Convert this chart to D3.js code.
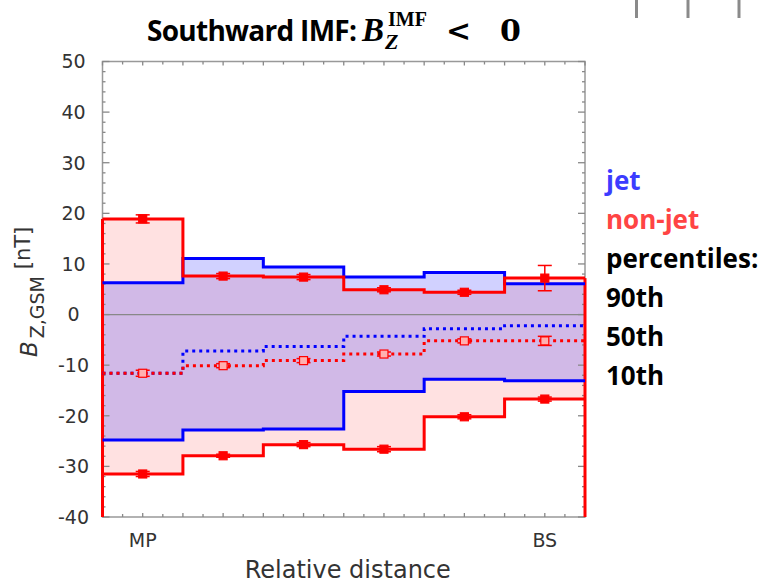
<!DOCTYPE html>
<meta charset="utf-8">
<style>
body { margin: 0; background: #fff; font-family: "DejaVu Sans", sans-serif; }
.axis-label { fill: #333; font-size: 19px; }
.legend { font-family: "Open Sans", Lato, sans-serif; font-weight: bold; font-size: 26px; }
</style>
<body>
<script src="https://d3js.org/d3.v7.min.js"></script>
<script>

// bins between magnetopause (MP) and bow shock (BS)
var bins = [0, 1, 2, 3, 4, 5];
var xTickPos = [0.5, 5.5];
var xTickText = ["MP", "BS"];
var yTicks = [50, 40, 30, 20, 10, 0, -10, -20, -30, -40];

// jet percentiles (blue)
var jet90 = [6.3, 11.1, 9.4, 7.4, 8.3, 6.1];
var jet50 = [-11.6, -7.2, -6.3, -4.3, -2.8, -2.2];
var jet10 = [-24.8, -22.8, -22.6, -15.2, -12.8, -13.1];

// non-jet percentiles (red) with error bars
var non90 = [18.9, 7.6, 7.4, 4.9, 4.4, 7.2];
var non50 = [-11.6, -10.1, -9.1, -7.8, -5.2, -5.2];
var non10 = [-31.5, -27.9, -25.7, -26.6, -20.2, -16.7];
var err90 = [0.8, 0.5, 0.5, 0.4, 0.4, 2.5];
var err50 = [0.6, 0.4, 0.4, 0.4, 0.4, 0.9];
var err10 = [0.5, 0.3, 0.4, 0.5, 0.4, 0.4];

var margin = {top: 61.5, left: 102.5},
    width = 482.5,
    height = 455.5;

var x = d3.scaleLinear().domain([0, 6]).range([0, width]);
var y = d3.scaleLinear().domain([-40, 50]).range([height, 0]);

var svg = d3.select("body").append("svg")
    .attr("width", 767)
    .attr("height", 584);

// slide leftovers top right
[636.5, 688, 739].forEach(function(px) {
    svg.append("line")
        .attr("x1", px).attr("x2", px)
        .attr("y1", 0).attr("y2", 18)
        .style("stroke", "#8a8a8a").style("stroke-width", 3);
});

var g = svg.append("g")
    .attr("transform", "translate(" + margin.left + "," + margin.top + ")");

// turn a per-bin array into step points
function steps(vals) {
    var pts = bins.map(function(b, i) { return {x: b, v: vals[i]}; });
    pts.push({x: 6, v: vals[vals.length - 1]});
    return pts;
}
function bandSteps(lo, hi) {
    var pts = bins.map(function(b, i) { return {x: b, lo: lo[i], hi: hi[i]}; });
    pts.push({x: 6, lo: lo[lo.length - 1], hi: hi[hi.length - 1]});
    return pts;
}

var line = d3.line()
    .x(function(d) { return x(d.x); })
    .y(function(d) { return y(d.v); })
    .curve(d3.curveStepAfter);

var area = d3.area()
    .x(function(d) { return x(d.x); })
    .y0(function(d) { return y(d.lo); })
    .y1(function(d) { return y(d.hi); })
    .curve(d3.curveStepAfter);

// shaded bands
g.append("path")
    .attr("d", area(bandSteps(non10, non90)))
    .style("fill", "#ffe1e1");
g.append("path")
    .attr("d", area(bandSteps(jet10, jet90)))
    .style("fill", "rgba(40,40,255,0.21)");

// zero line
g.append("line")
    .attr("x1", 0).attr("x2", width)
    .attr("y1", y(0)).attr("y2", y(0))
    .style("stroke", "#888").style("stroke-width", 1.2);

// frame
g.append("rect")
    .attr("width", width).attr("height", height)
    .style("fill", "none").style("stroke", "#999").style("stroke-width", 1.5);

// y ticks left and right
d3.range(-40, 51, 2).forEach(function(v) {
    var len = v % 10 === 0 ? 7 : 3;
    g.append("line").attr("x1", 0).attr("x2", len).attr("y1", y(v)).attr("y2", y(v))
        .style("stroke", "#888").style("stroke-width", 1.3);
    g.append("line").attr("x1", width).attr("x2", width - len).attr("y1", y(v)).attr("y2", y(v))
        .style("stroke", "#888").style("stroke-width", 1.3);
});
// x ticks bottom and top
d3.range(0, 6.01, 0.25).forEach(function(v) {
    var len = (v * 2) % 1 === 0 ? 4 : 3;
    g.append("line").attr("x1", x(v)).attr("x2", x(v)).attr("y1", height).attr("y2", height - len)
        .style("stroke", "#888").style("stroke-width", 1.3);
    g.append("line").attr("x1", x(v)).attr("x2", x(v)).attr("y1", 0).attr("y2", len)
        .style("stroke", "#888").style("stroke-width", 1.3);
});

// tick labels
g.selectAll(".ylab").data(yTicks).enter().append("text")
    .attr("class", "axis-label")
    .attr("x", -29)
    .attr("y", function(d) { return y(d); })
    .attr("dy", "0.36em")
    .attr("text-anchor", "middle")
    .text(function(d) { return d; });

g.selectAll(".xlab").data(xTickPos).enter().append("text")
    .attr("class", "axis-label")
    .attr("x", function(d) { return x(d); })
    .attr("y", height + 30)
    .attr("text-anchor", "middle")
    .text(function(d, i) { return xTickText[i]; });

g.append("text")
    .attr("class", "axis-label")
    .style("font-size", "24px")
    .attr("x", width / 2 + 4)
    .attr("y", height + 61)
    .attr("text-anchor", "middle")
    .text("Relative distance");

// y axis label
var yl = svg.append("text")
    .attr("transform", "translate(37,357) rotate(-90)")
    .attr("text-anchor", "start")
    .style("fill", "#333");
yl.append("tspan").style("font-style", "italic").style("font-size", "23px").text("B");
yl.append("tspan").style("font-size", "19px").attr("dx", 3).attr("dy", 7).text("Z,GSM");
yl.append("tspan").style("font-size", "21px").attr("dy", -14).text(" [nT]");

// red edge verticals
g.append("line").attr("x1", x(0)).attr("x2", x(0))
    .attr("y1", y(-40)).attr("y2", y(non90[0]))
    .style("stroke", "#ff0000").style("stroke-width", 3);
g.append("line").attr("x1", x(6)).attr("x2", x(6))
    .attr("y1", y(-40)).attr("y2", y(non90[5]))
    .style("stroke", "#ff0000").style("stroke-width", 3);

// step lines
var series = [
    {vals: jet90, color: "#0000ff", dash: null},
    {vals: jet10, color: "#0000ff", dash: null},
    {vals: jet50, color: "#0000ff", dash: "3,4"},
    {vals: non90, color: "#ff0000", dash: null},
    {vals: non10, color: "#ff0000", dash: null},
    {vals: non50, color: "#ff0000", dash: "3,4"}
];
series.forEach(function(s) {
    g.append("path")
        .attr("d", line(steps(s.vals)))
        .style("fill", "none")
        .style("stroke", s.color)
        .style("stroke-width", 3)
        .style("stroke-dasharray", s.dash);
});

// error bars and markers for non-jet
var markers = [
    {vals: non90, err: err90, open: false},
    {vals: non50, err: err50, open: true},
    {vals: non10, err: err10, open: false}
];
markers.forEach(function(m) {
    bins.forEach(function(b, i) {
        var cx = x(b + 0.5);
        var lo = y(m.vals[i] - m.err[i]), hi = y(m.vals[i] + m.err[i]);
        var eg = g.append("g").style("stroke", "#ff0000").style("stroke-width", 1.5);
        eg.append("line").attr("x1", cx).attr("x2", cx).attr("y1", lo).attr("y2", hi);
        eg.append("line").attr("x1", cx - 7).attr("x2", cx + 7).attr("y1", lo).attr("y2", lo);
        eg.append("line").attr("x1", cx - 7).attr("x2", cx + 7).attr("y1", hi).attr("y2", hi);
        g.append("rect")
            .attr("x", cx - 4).attr("y", y(m.vals[i]) - 4)
            .attr("width", 8).attr("height", 8)
            .style("fill", m.open ? "#ffb0b0" : "#ff0000")
            .style("stroke", "#ff0000").style("stroke-width", 1.2);
    });
});

// title
var title = svg.append("text")
    .attr("x", 147).attr("y", 41)
    .style("fill", "#000");
title.append("tspan")
    .style("font-family", "'Open Sans', Lato, sans-serif")
    .style("font-weight", "bold").style("font-size", "28px")
    .attr("textLength", 210)
    .text("Southward IMF:");
title.append("tspan")
    .style("font-family", "'Liberation Serif', serif")
    .style("font-weight", "bold").style("font-style", "italic").style("font-size", "33px")
    .attr("x", 362)
    .text("B");
title.append("tspan")
    .style("font-family", "'Liberation Serif', serif")
    .style("font-weight", "bold").style("font-style", "italic").style("font-size", "22px")
    .attr("x", 385).attr("dy", 8).text("Z");
title.append("tspan")
    .style("font-family", "'Liberation Serif', serif")
    .style("font-weight", "bold").style("font-size", "20px")
    .attr("x", 388).attr("dy", -23).text("IMF");
title.append("tspan")
    .style("font-family", "'DejaVu Serif', serif")
    .style("font-weight", "bold").style("font-size", "30px")
    .attr("x", 446).attr("dy", 15).text("<");
title.append("tspan")
    .style("font-family", "'DejaVu Serif', serif")
    .style("font-weight", "bold").style("font-size", "30px")
    .attr("x", 500).text("0");

// legend
var legendItems = [
    {t: "jet", c: "#3c3cff"},
    {t: "non-jet", c: "#ff4444"},
    {t: "percentiles:", c: "#000"},
    {t: "90th", c: "#000"},
    {t: "50th", c: "#000"},
    {t: "10th", c: "#000"}
];
svg.selectAll(".legend").data(legendItems).enter().append("text")
    .attr("class", "legend")
    .attr("x", 606)
    .attr("y", function(d, i) { return 190 + i * 39; })
    .style("fill", function(d) { return d.c; })
    .text(function(d) { return d.t; });

</script>
</body>
